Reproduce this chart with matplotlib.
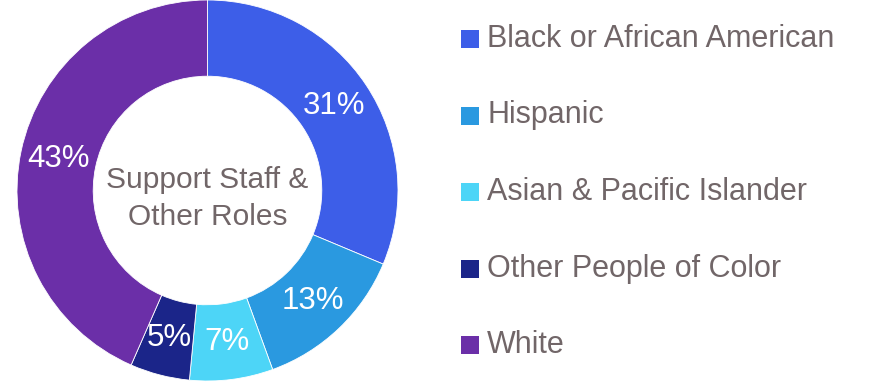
import matplotlib
matplotlib.use("Agg")
import matplotlib.pyplot as plt
from matplotlib.patches import Rectangle
import numpy as np

categories = ["Black or African American", "Hispanic", "Asian & Pacific Islander",
              "Other People of Color", "White"]
values = [31, 13, 7, 5, 43]
pct_labels = ["31%", "13%", "7%", "5%", "43%"]
colors = ["#3D5EE8", "#2A99E0", "#4DD5F7", "#1B2589", "#6B2FA8"]
center_title = "Support Staff &\nOther Roles"

W, H = 873, 383
fig = plt.figure(figsize=(W / 100, H / 100), dpi=100)
plt.rcParams['font.family'] = ['Liberation Sans', 'DejaVu Sans']
grey = "#716668"

cx, cy, r = 207.5, 190.5, 190.5
ax = fig.add_axes([(cx - r) / W, (H - cy - r) / H, 2 * r / W, 2 * r / H])
wedges, texts = ax.pie(values, colors=colors, startangle=90, counterclock=False,
                       radius=1.0, wedgeprops=dict(width=0.4, edgecolor="white", linewidth=0.6))
for w, lab in zip(wedges, pct_labels):
    ang = np.deg2rad((w.theta1 + w.theta2) / 2)
    ax.text(0.8 * np.cos(ang), 0.8 * np.sin(ang), lab, ha="center", va="center",
            color="white", fontsize=22.5)
ax.text(0, -0.04, center_title, ha="center", va="center", color=grey, fontsize=21.5,
        linespacing=1.4)
ax.set_xlim(-1, 1)
ax.set_ylim(-1, 1)
ax.set_aspect("auto")
ax.axis("off")

# legend
leg_y0 = 39
leg_dy = 76.5
for i, (cat, col) in enumerate(zip(categories, colors)):
    yc = leg_y0 + i * leg_dy
    fig.patches.append(Rectangle((461 / W, (H - yc - 9) / H), 18 / W, 18 / H,
                                 transform=fig.transFigure, facecolor=col, edgecolor="none"))
    fig.text(487 / W, (H - yc) / H, cat, ha="left", va="center", color=grey,
             fontsize=22)

fig.savefig("out.png", dpi=100)
